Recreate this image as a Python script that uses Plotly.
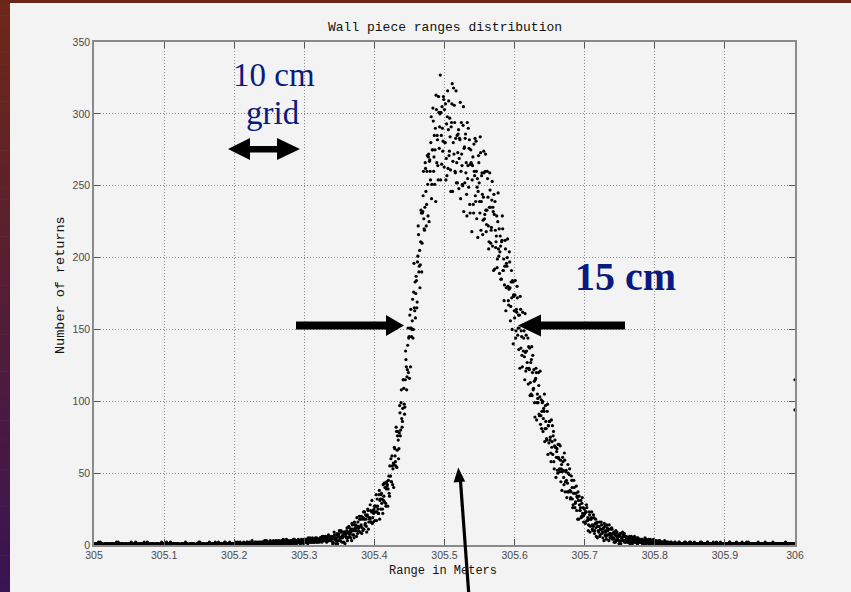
import plotly.graph_objects as go

# ---------------- data ----------------
# returns per range sample; samples every 1 mm starting at 305.000 m (set A)
counts_a = [
    0,1,0,0,1,0,0,0,1,2,0,0,1,0,0,0,0,1,0,0,
    1,0,0,0,0,1,0,1,0,0,0,0,2,0,0,1,0,0,0,1,
    0,0,1,0,0,0,1,0,0,0,1,0,0,2,1,0,0,0,0,1,
    0,1,0,0,0,0,1,0,1,0,0,0,0,1,0,0,2,0,0,0,
    1,0,0,1,0,0,0,0,1,0,0,1,0,0,0,1,0,0,0,0,
    0,0,1,0,1,0,0,0,0,2,0,0,0,1,0,0,1,0,0,0,
    1,0,0,0,0,1,0,1,0,0,0,0,1,0,0,0,0,1,0,1,
    0,0,1,0,0,0,0,1,1,0,0,2,0,0,1,0,0,0,1,0,
    0,1,0,1,0,0,1,0,0,0,1,0,1,2,1,0,0,1,0,0,
    1,0,0,1,1,0,0,2,0,1,0,0,1,0,1,0,1,1,0,0,
    1,0,1,1,0,2,0,1,0,1,1,0,0,1,1,0,1,0,2,1,
    0,1,1,0,1,2,1,0,1,1,0,2,1,1,0,1,1,2,0,1,
    1,2,1,0,1,1,3,1,2,1,0,1,2,1,1,2,3,1,1,2,
    2,1,1,2,3,1,2,1,1,2,4,2,1,1,2,3,2,1,2,2,
    1,2,3,2,1,2,4,2,2,1,3,2,2,3,1,2,4,3,2,1,
    2,3,2,4,3,1,2,3,5,2,3,2,4,3,2,3,5,2,3,4,
    3,2,4,5,3,2,4,3,6,4,3,5,2,4,6,3,4,5,3,4,
    5,2,6,7,4,1,5,7,3,6,10,3,5,9,2,7,6,9,1,8,
    5,12,5,8,12,8,5,11,15,7,10,5,14,12,10,19,8,13,12,18,
    18,14,8,18,19,11,23,15,18,9,21,24,16,19,28,16,23,15,24,22,
    27,23,27,17,32,25,22,38,31,25,36,32,22,31,43,40,29,39,41,27,
    45,36,55,48,44,62,42,57,56,67,58,82,54,76,73,67,97,76,99,88,
    86,115,109,91,115,129,108,122,151,144,116,151,164,145,156,144,176,165,183,175,
    184,169,201,216,194,179,211,231,210,232,260,220,235,262,222,260,251,270,225,268,
    254,298,251,275,295,270,251,290,313,266,282,254,301,291,327,301,265,290,281,310,
    303,280,254,293,298,262,309,274,284,246,294,321,267,318,306,260,283,252,285,273,
    289,269,282,241,294,264,250,305,276,252,286,266,229,255,290,276,237,265,266,218,
    264,237,279,257,243,281,227,255,246,266,239,284,219,257,244,226,274,227,260,233,
    223,260,242,206,235,247,210,221,253,235,191,230,239,207,215,193,225,206,220,204,
    208,185,212,220,191,170,194,206,179,194,213,170,178,197,156,183,172,184,140,173,
    158,184,149,162,172,151,136,160,173,137,145,124,153,144,131,161,121,135,127,144,
    138,122,104,127,129,104,132,109,114,89,116,120,99,102,120,91,103,84,101,93,
    100,88,93,72,97,81,73,98,83,71,86,75,58,68,83,76,58,69,68,47,
    65,52,70,60,53,69,44,56,51,58,47,64,37,51,45,37,56,37,49,38,
    33,48,40,26,36,40,26,30,41,34,18,31,34,24,26,19,29,22,26,21,
    22,15,23,26,17,10,18,21,13,18,23,11,13,19,8,15,12,15,5,13,
    9,16,7,11,14,9,5,12,15,7,9,4,12,10,7,14,5,8,7,11,
    8,5,2,7,8,3,9,4,6,1,7,8,3,5,9,3,6,2,6,4,
    3,5,2,4,6,3,2,5,1,4,3,6,2,4,3,1,5,3,2,4,
    3,2,4,1,3,2,5,2,1,3,2,4,2,1,3,2,3,1,4,2,
    2,1,3,1,2,0,2,3,1,2,1,2,0,1,3,1,2,1,2,1,
    1,0,1,2,1,1,0,1,1,2,0,1,1,0,1,2,1,1,0,1,
    1,1,0,1,2,0,1,1,0,1,1,2,1,0,1,1,0,1,1,0,
    1,0,1,1,0,2,1,1,0,1,0,1,1,1,0,2,1,0,1,1,
    0,1,1,0,1,1,0,1,2,1,0,1,1,0,1,0,1,1,0,1,
    1,0,1,1,0,1,1,2,1,0,1,0,1,1,0,1,1,0,1,1,
    0,1,1,0,1,0,1,1,1,0,1,2,1,0,1,1,0,1,0,1,
    1,1,0,1,1,0,1,0,1,1,1,0,1,1,0,1,0,1,1,0,
    1,0,1,1,0,1,1,0,1,0,1,1,1,0,1,1,0,1,1,0,
    0,1,1,0,1,1,0,1,0,1,1,0,1,1,0,1,1,0,1,0,
    1,
]
# interleaved samples, every 1 mm starting at 305.0005 m (set B)
counts_b = [
    1,0,0,1,0,0,2,0,0,1,0,1,0,0,0,1,0,0,1,0,
    0,0,1,0,1,0,0,0,1,0,0,1,0,0,2,0,0,1,0,0,
    1,0,0,0,1,0,1,0,0,1,0,0,0,1,0,0,1,0,0,2,
    0,1,0,0,1,0,0,1,0,0,0,2,0,1,0,0,0,1,0,0,
    0,0,1,0,0,1,0,0,0,1,1,0,0,0,1,0,2,0,0,1,
    1,0,0,2,0,0,1,0,1,0,0,0,1,0,0,1,0,0,1,0,
    0,1,0,0,0,1,0,0,1,0,2,0,0,1,0,0,0,1,0,1,
    1,0,1,0,0,0,1,0,0,2,0,1,0,0,1,0,1,0,0,0,
    0,1,0,0,2,1,0,1,0,0,1,0,1,0,0,1,0,2,1,0,
    1,0,1,0,1,0,2,0,1,1,0,1,0,2,0,1,1,0,1,0,
    0,1,2,0,1,1,0,1,2,0,1,1,0,2,1,0,1,1,2,0,
    1,2,0,1,1,3,1,0,1,2,1,1,0,2,1,2,1,0,1,2,
    2,1,1,3,1,0,2,1,2,1,1,3,1,2,0,1,2,2,1,3,
    1,2,3,1,2,2,1,3,2,1,2,3,1,2,4,2,1,3,2,1,
    3,2,1,2,4,2,3,1,2,3,2,4,3,2,1,3,2,2,4,3,
    3,2,4,2,3,5,2,3,3,4,2,5,3,2,4,3,3,5,2,4,
    4,3,5,3,4,6,3,5,4,3,6,4,5,3,7,4,5,4,6,5,
    1,6,9,4,5,3,8,1,7,8,5,3,10,6,5,9,2,9,8,6,
    10,3,9,13,6,10,9,3,14,11,7,16,10,14,6,12,16,10,20,9,
    13,20,12,10,23,18,14,21,13,20,25,11,19,18,24,16,31,19,16,25,
    17,27,35,23,27,22,35,18,32,35,29,25,42,34,30,43,27,44,42,39,
    48,34,48,60,44,55,53,40,68,62,55,79,66,79,60,78,92,80,108,82,
    95,115,98,96,135,124,117,139,120,145,160,124,151,150,171,150,196,163,158,187,
    165,197,222,190,205,195,233,190,231,243,227,219,266,246,237,271,229,272,267,260,
    280,241,275,304,260,285,275,239,303,285,264,312,276,300,254,285,305,274,312,263,
    280,307,269,257,316,289,271,297,261,291,307,246,280,272,294,259,316,266,252,286,
    248,283,308,260,272,251,292,232,277,283,259,244,294,264,249,282,231,275,265,254,
    270,231,260,283,239,260,249,214,271,252,231,273,239,259,216,242,259,230,272,218,
    233,255,222,211,259,235,219,240,208,232,244,192,219,211,229,199,245,201,189,215,
    185,211,229,191,199,181,212,163,196,200,180,167,204,179,166,191,150,183,174,163,
    174,144,164,180,146,160,151,123,164,149,132,162,135,149,115,134,146,123,154,112,
    123,137,113,105,138,120,108,122,99,115,123,87,105,99,111,90,121,90,81,99,
    79,95,105,81,86,74,93,63,83,86,73,64,87,72,63,79,53,73,68,61,
    67,50,61,70,51,59,53,38,61,52,42,59,44,52,33,43,50,37,53,32,
    37,45,32,28,45,36,29,36,24,33,37,18,28,24,31,20,33,20,16,25,
    16,23,28,17,19,14,23,9,18,19,14,10,21,14,10,18,6,16,13,10,
    13,6,11,16,8,11,9,3,13,10,6,14,7,11,3,8,11,6,12,4,
    5,9,4,2,10,6,4,7,3,6,8,1,5,4,7,3,8,3,2,6,
    4,2,5,3,1,4,6,2,3,5,2,3,4,2,5,1,3,4,2,3,
    2,4,1,3,2,3,1,4,2,2,3,1,2,4,1,2,3,2,1,3,
    1,2,2,0,1,3,1,1,2,0,2,1,1,2,1,0,2,1,1,2,
    0,1,1,2,0,1,1,0,2,1,1,0,1,1,2,0,1,0,1,1,
    1,0,2,1,0,1,1,0,1,2,0,1,0,1,1,0,2,1,0,1,
    0,1,1,0,1,0,2,1,0,1,1,0,1,0,1,2,0,1,1,0,
    1,1,0,2,0,1,1,0,1,0,1,1,0,2,1,0,1,0,1,1,
    0,1,0,1,1,0,2,1,0,1,1,0,1,0,1,1,2,0,1,0,
    1,0,1,0,2,1,0,1,1,0,1,0,1,2,0,1,1,0,1,1,
    0,1,1,0,1,0,1,2,0,1,0,1,1,0,1,1,0,2,1,0,
    1,0,1,0,1,1,0,1,2,0,1,0,1,1,0,1,0,1,0,1,
    1,1,0,1,0,1,2,0,1,0,1,1,0,1,1,0,1,0,1,0,
]
assert len(counts_a) == 1001, len(counts_a)
assert len(counts_b) == 1000, len(counts_b)

start_a = 305.0
start_b = 305.0005
step = 0.001
range_a = [round(start_a + i * step, 4) for i in range(len(counts_a))]
range_b = [round(start_b + i * step, 4) for i in range(len(counts_b))]

# two overflow points drawn at the right edge
edge_range = [306.0, 306.0]
edge_counts = [115, 94]

x_tickvals = [305, 305.1, 305.2, 305.3, 305.4, 305.5, 305.6, 305.7, 305.8, 305.9, 306]
x_ticktext = ["305", "305.1", "305.2", "305.3", "305.4", "305.5", "305.6", "305.7", "305.8", "305.9", "306"]
y_tickvals = [0, 50, 100, 150, 200, 250, 300, 350]

title_text = "Wall piece ranges distribution"
x_title = "Range in Meters"
y_title = "Number of returns"

# ---------------- layout geometry (pixels) ----------------
W, H = 851, 592
L, R, T, B = 94, 795, 42, 545
BG = "#f3f3f3"
NAVY = "#0a1a7e"


def px(x):
    return (x - L) / (R - L)


def py(y):
    return (B - y) / (B - T)


def poly(points):
    return "M " + " L ".join(f"{px(a):.5f},{py(b):.5f}" for a, b in points) + " Z"


fig = go.Figure()
fig.add_trace(go.Scatter(
    x=range_a + range_b + edge_range, y=counts_a + counts_b + edge_counts, mode="markers",
    marker=dict(color="black", size=3.2, line=dict(width=0)),
    hoverinfo="skip",
))

tickfont = dict(family="Liberation Sans, Arial, sans-serif", size=10.5, color="#4a4a4a")
axis_common = dict(
    showline=True, linecolor="#8a8a8a", linewidth=1.5, mirror="allticks",
    ticks="inside", ticklen=6, tickcolor="#555555", tickwidth=1,
    showgrid=True, gridcolor="#8a8a8a", gridwidth=1, griddash="1px,2px",
    zeroline=False, tickfont=tickfont,
)

fig.update_xaxes(range=[305, 306], tickvals=x_tickvals, ticktext=x_ticktext, **axis_common)
fig.update_yaxes(range=[0, 350], tickvals=y_tickvals, **axis_common)

shapes = []
# slide frame: top bar
shapes.append(dict(type="rect", xref="paper", yref="paper",
                   x0=px(0), x1=px(W), y0=py(3), y1=py(-2),
                   fillcolor="#6c2616", line=dict(width=0), layer="above"))
# slide frame: left gradient band
n = 48
c0 = (110, 40, 24)
c1 = (58, 20, 82)
for k in range(n):
    t = k / (n - 1)
    col = tuple(int(round(c0[j] + (c1[j] - c0[j]) * t)) for j in range(3))
    y0 = 3 + (H - 3) * k / n
    y1 = 3 + (H - 3) * (k + 1) / n + 0.6
    shapes.append(dict(type="rect", xref="paper", yref="paper",
                       x0=px(-1), x1=px(10), y0=py(y1), y1=py(y0),
                       fillcolor=f"rgb{col}", line=dict(width=0), layer="above"))

# "10 cm grid" double arrow
shapes.append(dict(type="path", xref="paper", yref="paper", layer="above",
                   path=poly([(228, 149), (250, 138), (250, 146), (277, 146), (277, 138),
                              (300, 149), (277, 160), (277, 152.5), (250, 152.5), (250, 160)]),
                   fillcolor="black", line=dict(width=0)))
# left thick arrow
shapes.append(dict(type="path", xref="paper", yref="paper", layer="above",
                   path=poly([(296, 321.5), (386, 321.5), (386, 315), (404, 325.5),
                              (386, 336), (386, 329.5), (296, 329.5)]),
                   fillcolor="black", line=dict(width=0)))
# right thick arrow
shapes.append(dict(type="path", xref="paper", yref="paper", layer="above",
                   path=poly([(518, 325.5), (541, 314.5), (541, 321.5), (625, 321.5),
                              (625, 329.5), (541, 329.5), (541, 336.5)]),
                   fillcolor="black", line=dict(width=0)))
# bottom pointer arrow
shapes.append(dict(type="line", xref="paper", yref="paper", layer="above",
                   x0=px(469), y0=py(597), x1=px(460.2), y1=py(477),
                   line=dict(color="black", width=3.2)))
shapes.append(dict(type="path", xref="paper", yref="paper", layer="above",
                   path=poly([(458.3, 467.5), (465.2, 481.5), (453.6, 482.4)]),
                   fillcolor="black", line=dict(width=0)))

annotations = [
    dict(text=title_text, xref="paper", yref="paper", x=px(444.5), y=py(27.5),
         xanchor="center", yanchor="middle", showarrow=False,
         font=dict(family="Liberation Mono, Courier New, monospace", size=13, color="#111111")),
    dict(text=x_title, xref="paper", yref="paper", x=px(443), y=py(571),
         xanchor="center", yanchor="middle", showarrow=False,
         font=dict(family="Liberation Mono, Courier New, monospace", size=12, color="#111111")),
    dict(text=y_title, xref="paper", yref="paper", x=px(60), y=py(285),
         xanchor="center", yanchor="middle", showarrow=False, textangle=-90,
         font=dict(family="Liberation Mono, Courier New, monospace", size=13.5, color="#111111")),
    dict(text="10 cm", xref="paper", yref="paper", x=px(274), y=py(75),
         xanchor="center", yanchor="middle", showarrow=False,
         font=dict(family="Liberation Serif, Times New Roman, serif", size=33, color=NAVY)),
    dict(text="grid", xref="paper", yref="paper", x=px(272.5), y=py(113),
         xanchor="center", yanchor="middle", showarrow=False,
         font=dict(family="Liberation Serif, Times New Roman, serif", size=33, color=NAVY)),
    dict(text="<b>15 cm</b>", xref="paper", yref="paper", x=px(625), y=py(276.5),
         xanchor="center", yanchor="middle", showarrow=False,
         font=dict(family="Liberation Serif, Times New Roman, serif", size=40, color=NAVY)),
]

fig.update_layout(
    width=W, height=H,
    margin=dict(l=L, r=W - R, t=T, b=H - B, pad=0),
    paper_bgcolor=BG, plot_bgcolor=BG,
    showlegend=False,
    shapes=shapes,
    annotations=annotations,
)

fig.write_html("out.html")
